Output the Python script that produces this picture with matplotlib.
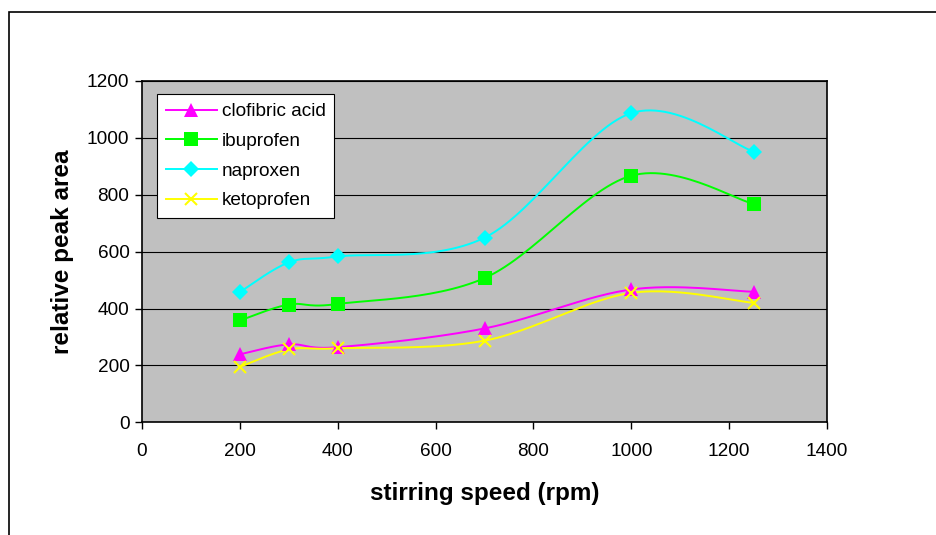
import matplotlib.pyplot as plt
import numpy as np
from matplotlib.patches import Rectangle

plt.rcParams['font.family'] = ['Liberation Sans', 'DejaVu Sans']

speed = [200, 300, 400, 700, 1000, 1250]
clofibric = [239, 274, 264, 330, 467, 459]
ibuprofen = [358, 414, 416, 507, 867, 768]
naproxen = [458, 562, 583, 649, 1087, 952]
ketoprofen = [195, 256, 260, 287, 455, 420]

series = [
    ('clofibric acid', clofibric, '#FF00FF', '^', 10),
    ('ibuprofen', ibuprofen, '#00FF00', 's', 10),
    ('naproxen', naproxen, '#00FFFF', 'D', 8),
    ('ketoprofen', ketoprofen, '#FFFF00', 'x', 9),
]


def smooth(x, y, n=30):
    """ Excel-like smoothed line (Catmull-Rom through the points) """
    p = np.column_stack([x, y]).astype(float)
    p = np.vstack([p[0], p, p[-1]])
    out = []
    t = np.linspace(0, 1, n)[:, None]
    for i in range(1, len(p) - 2):
        p0, p1, p2, p3 = p[i - 1], p[i], p[i + 1], p[i + 2]
        c1 = p1 + (p2 - p0) / 6
        c2 = p2 - (p3 - p1) / 6
        seg = ((1 - t) ** 3) * p1 + 3 * ((1 - t) ** 2) * t * c1 \
            + 3 * (1 - t) * t ** 2 * c2 + t ** 3 * p2
        out.append(seg)
    out = np.vstack(out)
    return out[:, 0], out[:, 1]


fig = plt.figure(figsize=(9.36, 5.35), dpi=100)
fig.patches.append(Rectangle((9 / 936, -0.1), 1.2, 1 - 12 / 535 + 0.1,
                             transform=fig.transFigure, fill=False,
                             edgecolor='black', linewidth=1.2))

ax = fig.add_axes([142 / 936, 1 - 422.3 / 535, 685 / 936, 341.3 / 535])
ax.set_facecolor('#C0C0C0')

for name, vals, col, mk, ms in series:
    sx, sy = smooth(speed, vals)
    ax.plot(sx, sy, color=col, linewidth=1.4, zorder=3)
    mew = 1.5 if mk == 'x' else 0
    ax.plot(speed, vals, linestyle='none', marker=mk, markersize=ms,
            color=col, markeredgecolor=col, markeredgewidth=mew, zorder=4)
    ax.plot([], [], color=col, linewidth=1.4, marker=mk, markersize=ms,
            markeredgecolor=col, markeredgewidth=mew, label=name)

ax.set_xlim(0, 1400)
ax.set_ylim(0, 1200)
ax.set_xticks(np.arange(0, 1401, 200))
ax.set_yticks(np.arange(0, 1201, 200))
ax.yaxis.grid(True, color='black', linewidth=0.8)
ax.set_axisbelow(True)
for s in ax.spines.values():
    s.set_linewidth(1.2)
    s.set_color('black')
ax.tick_params(direction='out', length=5, width=1, labelsize=13.7)
ax.tick_params(axis='x', pad=10)
ax.tick_params(axis='y', pad=4)

ax.set_xlabel('stirring speed (rpm)', fontsize=17.5, fontweight='bold', labelpad=16)
ax.set_ylabel('relative peak area', fontsize=17.5, fontweight='bold', labelpad=9)

leg = ax.legend(loc='upper left', bbox_to_anchor=(0.022, 0.961), fontsize=13.7,
                frameon=True, fancybox=False, borderaxespad=0,
                handlelength=2.7, handletextpad=0.25, labelspacing=0.65,
                borderpad=0.45)
leg.get_frame().set_edgecolor('black')
leg.get_frame().set_linewidth(0.8)
leg.get_frame().set_facecolor('white')
leg.get_frame().set_alpha(1)

plt.savefig('out.png', dpi=100)
